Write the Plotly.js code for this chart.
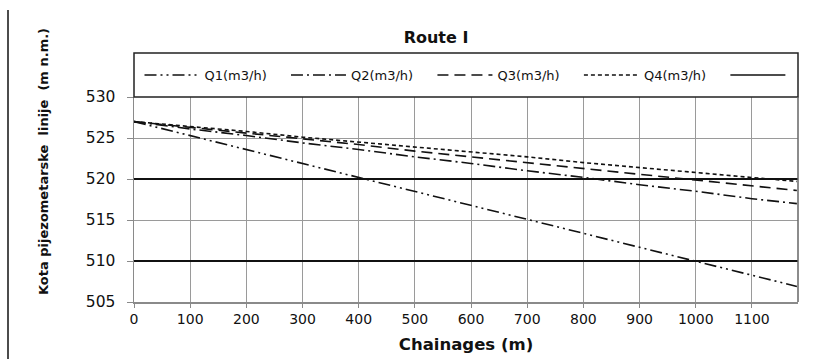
<!DOCTYPE html>
<html>
<head>
<meta charset="utf-8">
<script src="https://cdn.plot.ly/plotly-3.0.1.min.js"></script>
<style>html,body{margin:0;padding:0;background:#fff;}#chart{width:830px;height:359px;}</style>
</head>
<body>
<div id="chart"></div>
<script>
// Data
const chainages = [0, 100, 200, 300, 400, 500, 600, 700, 800, 900, 1000, 1100, 1180];
const q1 = [527.0, 525.3, 523.6, 521.9, 520.2, 518.5, 516.8, 515.1, 513.4, 511.7, 510.0, 508.3, 506.9];
const q2 = [527.0, 526.1, 525.3, 524.4, 523.6, 522.7, 521.9, 521.0, 520.2, 519.3, 518.5, 517.6, 517.0];
const q3 = [527.0, 526.3, 525.6, 524.9, 524.2, 523.4, 522.7, 522.0, 521.3, 520.6, 519.9, 519.2, 518.6];
const q4 = [527.0, 526.4, 525.8, 525.1, 524.5, 523.9, 523.3, 522.7, 522.0, 521.4, 520.8, 520.2, 519.7];
const seriesNames = ['Q1(m3/h)', 'Q2(m3/h)', 'Q3(m3/h)', 'Q4(m3/h)', ''];
const unlabeledX = [null];
const unlabeledY = [null];
const xTicks = [0, 100, 200, 300, 400, 500, 600, 700, 800, 900, 1000, 1100];
const yTicks = [505, 510, 515, 520, 525, 530];

const dashes = ['12px,4px,2px,4px,2px,4px', '12px,4px,2px,4px', '11px,6px', '4px,3px', 'solid'];
const ys = [q1, q2, q3, q4];
const pad = '\u00a0\u00a0';

const traces = ys.map((y, i) => ({
  x: chainages, y: y, type: 'scatter', mode: 'lines', name: seriesNames[i] + pad,
  line: {color: '#111', width: 1.6, dash: dashes[i]}, hoverinfo: 'skip'
}));
traces.push({x: unlabeledX, y: unlabeledY, type: 'scatter', mode: 'lines', name: seriesNames[4], yaxis: 'y2',
  line: {color: '#111', width: 1.6, dash: dashes[4]}, hoverinfo: 'skip'});

const plotH = 359 - 97 - 57;
const layout = {
  width: 830, height: 359,
  margin: {l: 134, r: 32, t: 97, b: 57},
  paper_bgcolor: '#fff', plot_bgcolor: '#fff',
  font: {family: 'DejaVu Sans, Arial, sans-serif', color: '#111'},
  title: {text: 'Route I', font: {family: 'DejaVu Sans, Arial, sans-serif', size: 16, weight: 'bold', color: '#111'},
    xref: 'container', x: 436/830, xanchor: 'center', yref: 'container', y: 1 - 37/359, yanchor: 'middle'},
  showlegend: true,
  legend: {orientation: 'h', x: -0.5/664, xanchor: 'left', y: 1 + 22/plotH, yanchor: 'middle',
    bgcolor: 'rgba(0,0,0,0)', borderwidth: 0, itemwidth: 55,
    indentation: 6,
    font: {size: 13, color: '#111'}, traceorder: 'normal', itemclick: false},
  xaxis: {range: [0, 1182], tickvals: xTicks, ticktext: xTicks.map(String), showgrid: true, gridcolor: '#9a9a9a', gridwidth: 1,
    zeroline: false, showline: true, linecolor: '#8a8a8a', linewidth: 1.5, mirror: false,
    ticks: 'outside', ticklen: 4, tickcolor: '#8a8a8a', tickfont: {size: 14, color: '#111'},
    title: {text: 'Chainages (m)', font: {size: 16.5, weight: 'bold', color: '#111'}, standoff: 12}},
  yaxis: {range: [505, 530], tickvals: yTicks, showgrid: true, gridcolor: '#9a9a9a', gridwidth: 1,
    zeroline: false, showline: true, linecolor: '#8a8a8a', linewidth: 1.5,
    ticks: 'outside', ticklen: 6, tickcolor: '#8a8a8a', tickfont: {size: 15.5, color: '#111'}, ticklabelstandoff: 8},
  yaxis2: {range: [505, 530], overlaying: 'y', side: 'left', tickvals: [510, 520], showticklabels: false,
    showgrid: true, gridcolor: '#111', gridwidth: 1.3, zeroline: false, showline: false, ticks: ''},
  annotations: [{text: 'Kota pijezometarske  linije  (m n.m.)', textangle: -90, xref: 'paper', yref: 'paper',
    x: (43 - 134) / 664, y: (302 - 161) / plotH, xanchor: 'center', yanchor: 'middle', showarrow: false,
    font: {size: 13, weight: 'bold', color: '#111'}}],
  shapes: [
    {type: 'rect', xref: 'paper', yref: 'paper', x0: 0, x1: 1, y0: 1, y1: 1 + 44/plotH, line: {color: '#222', width: 1.5}},
    {type: 'line', xref: 'paper', yref: 'paper', x0: 1, x1: 1, y0: 0, y1: 1, line: {color: '#666', width: 1.5}},
    {type: 'line', xref: 'paper', yref: 'paper', x0: (8 - 134) / 664, x1: (8 - 134) / 664, y0: (302 - 359) / plotH, y1: (302 - 10) / plotH, line: {color: '#111', width: 1.5}}
  ]
};
Plotly.newPlot('chart', traces, layout, {displayModeBar: false, staticPlot: true});
</script>
</body>
</html>
